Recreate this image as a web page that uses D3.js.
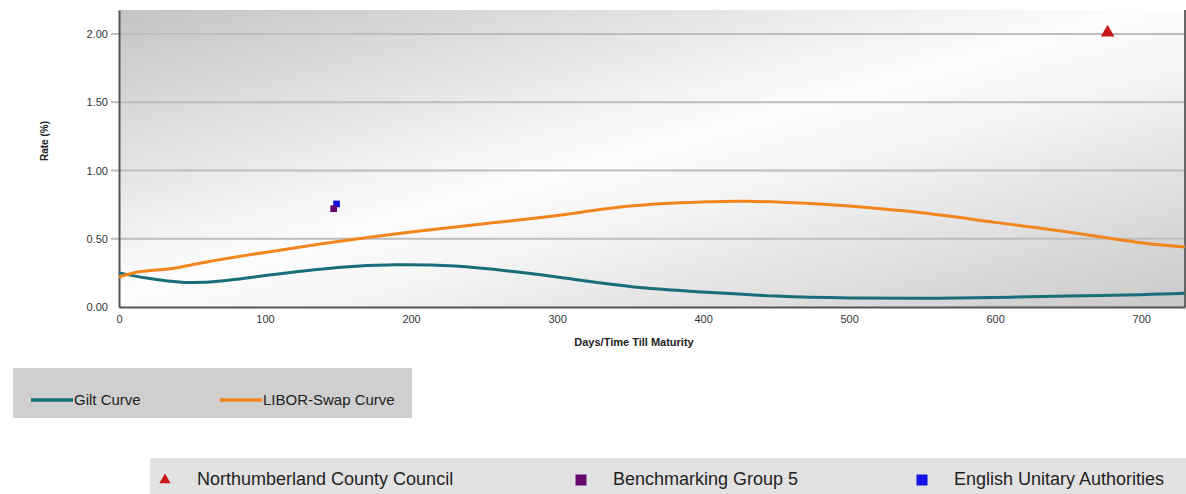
<!DOCTYPE html>
<html>
<head>
<meta charset="utf-8">
<script src="https://cdn.jsdelivr.net/npm/d3@7"></script>
<style>
    body { margin: 0; background: #fff; }
    svg { display: block; font-family: "Liberation Sans", Arial, sans-serif; }
    .axis text { font-size: 11px; fill: #333; }
    .axis path { stroke: #555; stroke-width: 2; }
    .grid line { stroke: #bdbdbd; stroke-width: 2; }
    .title { font-weight: bold; fill: #222; }
    .legend text { fill: #222; }
</style>
</head>
<body>
<svg id="chart" width="1186" height="494"></svg>
<script>
// days till maturity / rate (%)
const giltDays  = [0, 20, 45, 70, 100, 150, 190, 230, 270, 300, 350, 400, 450, 500, 550, 600, 650, 700, 730];
const giltRates = [0.25, 0.21, 0.18, 0.19, 0.23, 0.29, 0.31, 0.30, 0.26, 0.22, 0.15, 0.11, 0.08, 0.066, 0.064, 0.07, 0.08, 0.09, 0.10];

const liborDays  = [0, 15, 35, 60, 100, 150, 200, 250, 300, 350, 400, 430, 470, 500, 550, 600, 650, 700, 730];
const liborRates = [0.22, 0.26, 0.28, 0.33, 0.40, 0.48, 0.55, 0.61, 0.67, 0.74, 0.77, 0.775, 0.76, 0.74, 0.69, 0.62, 0.55, 0.47, 0.44];

const pointNames  = ["Northumberland County Council", "Benchmarking Group 5", "English Unitary Authorities"];
const pointDays   = [677, 147, 149];
const pointRates  = [2.01, 0.72, 0.755];
const pointColors = ["#c8171c", "#66086b", "#1414e6"];
const pointShapes = ["triangle", "square", "square"];

const lineNames  = ["Gilt Curve", "LIBOR-Swap Curve"];
const lineColors = ["#176d78", "#f2861c"];

const yTicks = [0, 0.5, 1, 1.5, 2];
const xTicks = [0, 100, 200, 300, 400, 500, 600, 700];

const margin = {top: 10, right: 1, bottom: 187, left: 119};
const width = 1186 - margin.left - margin.right;
const height = 494 - margin.top - margin.bottom;

const svg = d3.select("#chart");
const defs = svg.append("defs");

const bg = defs.append("linearGradient").attr("id", "plotbg")
    .attr("x1", 0).attr("y1", 0).attr("x2", 1).attr("y2", 1);
bg.append("stop").attr("offset", "0%").attr("stop-color", "#c4c4c4");
bg.append("stop").attr("offset", "48%").attr("stop-color", "#fdfdfd");
bg.append("stop").attr("offset", "60%").attr("stop-color", "#f4f4f4");
bg.append("stop").attr("offset", "100%").attr("stop-color", "#c9c9c9");

const x = d3.scaleLinear().domain([0, 730]).range([0, width]);
const y = d3.scaleLinear().domain([0, 2.176]).range([height, 0]);

const chart = svg.append("g").attr("transform", "translate(" + margin.left + "," + margin.top + ")");

chart.append("rect").attr("width", width).attr("height", height).attr("fill", "url(#plotbg)");

// grid
chart.append("g").attr("class", "grid")
    .selectAll("line").data(yTicks.slice(1)).enter().append("line")
    .attr("x1", -8).attr("x2", width)
    .attr("y1", d => y(d)).attr("y2", d => y(d));

// right border
chart.append("line").attr("x1", width).attr("x2", width).attr("y1", 0).attr("y2", height)
    .attr("stroke", "#666").attr("stroke-width", 2);

chart.append("g").attr("class", "y axis")
    .call(d3.axisLeft(y).tickValues(yTicks).tickFormat(d3.format(".2f")).tickSize(0).tickPadding(11));

chart.append("g").attr("class", "x axis").attr("transform", "translate(0," + height + ")")
    .call(d3.axisBottom(x).tickValues(xTicks).tickSize(0).tickPadding(8));

chart.append("text").attr("class", "title")
    .attr("x", 634 - margin.left).attr("y", height + 39).attr("text-anchor", "middle")
    .attr("font-size", 11)
    .text("Days/Time Till Maturity");
chart.append("text").attr("class", "title")
    .attr("transform", "translate(-71,131) rotate(-90)")
    .attr("text-anchor", "middle")
    .attr("font-size", 10)
    .text("Rate (%)");

// curves
const line = d3.line().x(d => x(d[0])).y(d => y(d[1])).curve(d3.curveNatural);
const series = [d3.zip(giltDays, giltRates), d3.zip(liborDays, liborRates)];
chart.selectAll("path.curve").data(series).enter().append("path")
    .attr("class", "curve")
    .attr("fill", "none")
    .attr("stroke", (d, i) => lineColors[i])
    .attr("stroke-width", 3)
    .attr("d", line);

// benchmark points
const symbol = (s, tri, sq) => d3.symbol().type(s === "triangle" ? d3.symbolTriangle : d3.symbolSquare).size(s === "triangle" ? tri : sq)();
chart.selectAll("path.pt").data(pointDays.map((d, i) => i).reverse()).enter().append("path")
    .attr("class", "pt")
    .attr("transform", i => "translate(" + x(pointDays[i]) + "," + y(pointRates[i]) + ")")
    .attr("d", i => symbol(pointShapes[i], 80, 45))
    .attr("fill", i => pointColors[i]);

// legend for curves
const leg1 = svg.append("g").attr("class", "legend").attr("transform", "translate(13,368)");
leg1.append("rect").attr("width", 399).attr("height", 50).attr("fill", "#cfcfcf");
const l1x = [18, 207];
leg1.selectAll("line").data(lineNames).enter().append("line")
    .attr("x1", (d, i) => l1x[i]).attr("x2", (d, i) => l1x[i] + 42)
    .attr("y1", 32).attr("y2", 32)
    .attr("stroke", (d, i) => lineColors[i]).attr("stroke-width", 3.5);
leg1.selectAll("text").data(lineNames).enter().append("text")
    .attr("x", (d, i) => l1x[i] + 43).attr("y", 37)
    .attr("font-size", 15)
    .text(d => d);

// legend for points
const leg2 = svg.append("g").attr("class", "legend").attr("transform", "translate(150,458)");
leg2.append("rect").attr("width", 1036).attr("height", 36).attr("fill", "#e2e2e2");
const l2x = [15, 431, 772];
leg2.selectAll("path").data(pointNames).enter().append("path")
    .attr("transform", (d, i) => "translate(" + l2x[i] + ",22)")
    .attr("d", (d, i) => symbol(pointShapes[i], 55, 121))
    .attr("fill", (d, i) => pointColors[i]);
leg2.selectAll("text").data(pointNames).enter().append("text")
    .attr("x", (d, i) => l2x[i] + 32).attr("y", 27)
    .attr("font-size", 18)
    .text(d => d);
</script>
</body>
</html>
